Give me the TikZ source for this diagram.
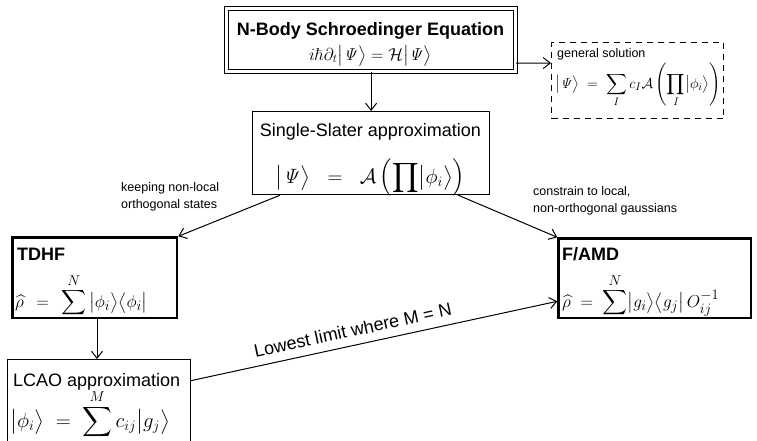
\documentclass[tikz,border=0pt]{standalone}
\usepackage{amsmath}
\usepackage[no-math]{fontspec}
\setmainfont{Liberation Sans}
\usetikzlibrary{arrows.meta,calc}
\tikzset{
  box/.style={draw, line width=1.2pt, inner sep=0pt, anchor=north west},
  thickbox/.style={box, line width=2.6pt},
  dblbox/.style={draw, double, line width=1.2pt, double distance=2.6pt, inner sep=0pt, anchor=north west},
  dashbox/.style={box, dash pattern=on 6pt off 5pt},
  conn/.style={line width=1pt, -{Straight Barb[length=7pt,width=11pt]}},
  bigtxt/.style={font=\fontsize{18}{21.6}\selectfont, inner sep=0pt},
  smalltxt/.style={font=\fontsize{12.5}{17}\selectfont, inner sep=0pt},
  eqtxt/.style={font=\fontsize{#1}{#1}\selectfont, inner sep=0pt},
}
\begin{document}
\begin{tikzpicture}[x=1pt,y=-1pt]
\useasboundingbox (0,0) rectangle (757,440);
% boxes
\node[dblbox, minimum width=289pt, minimum height=63pt] (top) at (226,8) {};
\node[dashbox, minimum width=172pt, minimum height=76pt] (gen) at (551,42) {};
\node[box, minimum width=237pt, minimum height=83pt] (ss) at (252,111) {};
\node[thickbox, minimum width=164.4pt, minimum height=80.4pt] (tdhf) at (11.3,236.3) {};
\node[thickbox, minimum width=192.4pt, minimum height=79.4pt] (famd) at (557.3,237.3) {};
\node[box, minimum width=183pt, minimum height=86pt] (lcao) at (7,359) {};
% texts
\node[bigtxt, anchor=base] (toptitle) at (370.5,35) {\textbf{N-Body Schroedinger Equation}};
\node[eqtxt=18, anchor=base] (topeq) at (370.5,60) {$i\hbar\partial_t\bigl|\mathit{\Psi}\bigr\rangle = \mathcal{H}\bigl|\mathit{\Psi}\bigr\rangle$};
\node[smalltxt, anchor=base west] (gentitle) at (557,57) {general solution};
\node[eqtxt=15.5, anchor=base west] (geneq) at (555,88) {$\displaystyle \bigl|\mathit{\Psi}\bigr\rangle \;=\; \sum_{I} c_I\mathcal{A}\left(\prod_{I}\bigl|\phi_i\bigr\rangle\right)$};
\node[bigtxt, anchor=base] (sstitle) at (370.5,136) {Single-Slater approximation};
\node[eqtxt=21, anchor=base] (sseq) at (370.5,183) {$\displaystyle \bigl|\mathit{\Psi}\bigr\rangle \;\;=\;\; \mathcal{A}\left(\prod \bigl|\phi_i\bigr\rangle\right)$};
\node[bigtxt, anchor=base west] (tdhftitle) at (17,260) {\textbf{TDHF}};
\node[eqtxt=19, anchor=base west] (tdhfeq) at (15,307) {$\displaystyle \widehat{\rho} \;\,=\;\, \sum^{N}\, \bigl|\phi_i\bigr\rangle\bigl\langle\phi_i\bigr|$};
\node[bigtxt, anchor=base west] (famdtitle) at (562,260) {\textbf{F/AMD}};
\node[eqtxt=19, anchor=base west] (famdeq) at (562,307) {$\displaystyle \widehat{\rho} \;=\; \sum^{N} \bigl|g_i\bigr\rangle\bigl\langle g_j\bigr|\,O^{-1}_{ij}$};
\node[bigtxt, anchor=base west] (lcaotitle) at (13,386) {LCAO approximation};
\node[eqtxt=19.5, anchor=base west] (lcaoeq) at (10,427) {$\displaystyle \bigl|\phi_i\bigr\rangle \;=\; \sum^{M} c_{ij}\bigl|g_j\bigr\rangle$};
\node[smalltxt, anchor=base west, align=left] (lab1) at (121,208) {keeping non-local\\orthogonal states};
\node[smalltxt, anchor=base west, align=left] (lab2) at (533,212) {constrain to local,\\non-orthogonal gaussians};
% connectors
\draw[conn] (top.south) -- (ss.north);
\draw[conn] ($(top.south east)+(0,-9)$) -- ($(gen.north west)+(0,21)$);
\draw[conn] ($(ss.south west)+(28,0)$) -- (tdhf.north east);
\draw[conn] ($(ss.south east)+(-32,0)$) -- (famd.north west);
\draw[conn] (tdhf.south -| 97,0) -- (lcao.north -| 97,0);
\draw[conn] ($(lcao.east)+(0,-22)$) -- node[bigtxt, sloped, above=8pt, pos=0.45] (lowlab) {Lowest limit where M = N} ($(famd.west)+(0,23)$);
\end{tikzpicture}
\end{document}
